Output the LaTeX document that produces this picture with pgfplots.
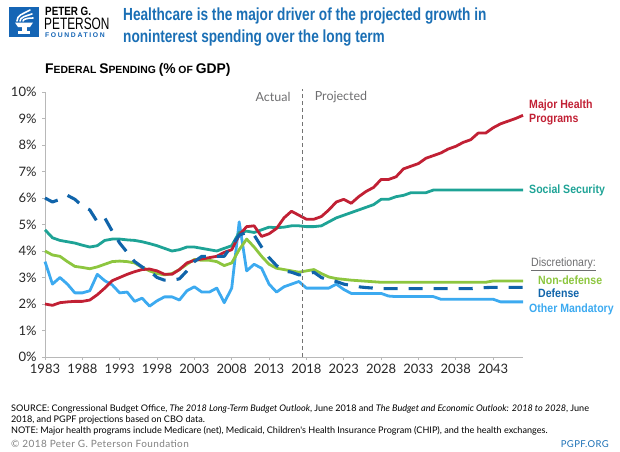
\documentclass[border=0pt]{standalone}
\usepackage{pgfplots}
\pgfplotsset{compat=1.18}
\usepackage{pgfplotstable}
\usepackage{fontspec}
\setmainfont{Lato}
\newfontfamily\lato{Lato}
\newfontfamily\titlefont[FakeStretch=0.78]{Liberation Sans}
\newfontfamily\labfont[FakeStretch=0.88]{Liberation Sans}
\newfontfamily\logofont[FakeStretch=0.72]{Liberation Sans}
\newfontfamily\logoB[FakeStretch=0.82]{Liberation Sans}
\newfontfamily\fedfont[FakeStretch=0.99]{Liberation Sans}
\newfontfamily\foundfont[LetterSpace=24]{Liberation Sans}
\newfontfamily\footfont[LetterSpace=4]{Lato}

\definecolor{cRed}{RGB}{193,32,52}
\definecolor{cTeal}{RGB}{30,163,150}
\definecolor{cGreen}{RGB}{141,198,63}
\definecolor{cDef}{RGB}{16,100,170}
\definecolor{cOther}{RGB}{60,170,240}
\definecolor{cTitle}{RGB}{26,111,181}
\definecolor{cLogo}{RGB}{21,101,181}
\definecolor{cGray}{RGB}{110,110,112}

\pgfplotstableread{
year val
1983 2.0
1984 1.95
1985 2.05
1986 2.08
1987 2.1
1988 2.1
1989 2.15
1990 2.35
1991 2.6
1992 2.88
1993 3.0
1994 3.12
1995 3.22
1996 3.3
1997 3.32
1998 3.25
1999 3.12
2000 3.12
2001 3.3
2002 3.55
2003 3.65
2004 3.7
2005 3.75
2006 3.8
2007 3.95
2008 4.05
2009 4.6
2010 4.92
2011 4.95
2012 4.55
2013 4.65
2014 4.85
2015 5.25
2016 5.5
2017 5.35
2018 5.2
2019 5.2
2020 5.3
2021 5.55
2022 5.85
2023 5.95
2024 5.8
2025 6.05
2026 6.25
2027 6.4
2028 6.7
2029 6.7
2030 6.8
2031 7.1
2032 7.2
2033 7.3
2034 7.5
2035 7.6
2036 7.7
2037 7.85
2038 7.95
2039 8.1
2040 8.2
2041 8.45
2042 8.45
2043 8.65
2044 8.8
2045 8.9
2046 9.0
2047 9.12
}\tabHealth

\pgfplotstableread{
year val
1983 4.8
1984 4.5
1985 4.4
1986 4.35
1987 4.3
1988 4.22
1989 4.15
1990 4.2
1991 4.4
1992 4.45
1993 4.45
1994 4.42
1995 4.4
1996 4.35
1997 4.28
1998 4.2
1999 4.1
2000 4.0
2001 4.05
2002 4.15
2003 4.15
2004 4.1
2005 4.05
2006 4.0
2007 4.1
2008 4.2
2009 4.7
2010 4.75
2011 4.7
2012 4.8
2013 4.9
2014 4.88
2015 4.9
2016 4.95
2017 4.95
2018 4.92
2019 4.92
2020 4.95
2021 5.1
2022 5.25
2023 5.35
2024 5.45
2025 5.55
2026 5.65
2027 5.75
2028 5.95
2029 5.95
2030 6.05
2031 6.1
2032 6.2
2033 6.2
2034 6.2
2035 6.3
2036 6.3
2037 6.3
2038 6.3
2039 6.3
2040 6.3
2041 6.3
2042 6.3
2043 6.3
2044 6.3
2045 6.3
2046 6.3
2047 6.3
}\tabSS

\pgfplotstableread{
year val
1983 6.0
1984 5.85
1985 5.95
1986 6.1
1987 5.95
1988 5.7
1989 5.55
1990 5.1
1991 5.25
1992 4.75
1993 4.3
1994 3.95
1995 3.6
1996 3.4
1997 3.25
1998 3.0
1999 2.9
2000 2.9
2001 2.95
2002 3.25
2003 3.6
2004 3.8
2005 3.8
2006 3.8
2007 3.8
2008 4.2
2009 4.6
2010 4.7
2011 4.6
2012 4.15
2013 3.75
2014 3.45
2015 3.25
2016 3.2
2017 3.1
2018 3.1
2019 3.2
2020 3.0
2021 2.9
2022 2.85
2023 2.75
2024 2.7
2025 2.65
2026 2.62
2027 2.6
2028 2.58
2029 2.58
2030 2.58
2031 2.58
2032 2.58
2033 2.58
2034 2.58
2035 2.58
2036 2.58
2037 2.58
2038 2.58
2039 2.58
2040 2.58
2041 2.6
2042 2.62
2043 2.63
2044 2.63
2045 2.63
2046 2.63
2047 2.63
}\tabDef

\pgfplotstableread{
year val
1983 4.0
1984 3.85
1985 3.8
1986 3.6
1987 3.42
1988 3.38
1989 3.33
1990 3.4
1991 3.5
1992 3.6
1993 3.62
1994 3.6
1995 3.55
1996 3.38
1997 3.25
1998 3.15
1999 3.1
2000 3.15
2001 3.3
2002 3.5
2003 3.68
2004 3.65
2005 3.65
2006 3.6
2007 3.45
2008 3.55
2009 4.05
2010 4.45
2011 4.15
2012 3.8
2013 3.5
2014 3.35
2015 3.3
2016 3.25
2017 3.2
2018 3.25
2019 3.3
2020 3.15
2021 3.02
2022 2.96
2023 2.93
2024 2.9
2025 2.88
2026 2.86
2027 2.84
2028 2.82
2029 2.82
2030 2.82
2031 2.82
2032 2.82
2033 2.82
2034 2.82
2035 2.82
2036 2.82
2037 2.82
2038 2.82
2039 2.82
2040 2.82
2041 2.82
2042 2.82
2043 2.87
2044 2.87
2045 2.87
2046 2.87
2047 2.87
}\tabNonDef

\pgfplotstableread{
year val
1983 3.6
1984 2.75
1985 3.0
1986 2.75
1987 2.42
1988 2.42
1989 2.5
1990 3.12
1991 2.88
1992 2.72
1993 2.42
1994 2.45
1995 2.1
1996 2.22
1997 1.92
1998 2.12
1999 2.27
2000 2.27
2001 2.15
2002 2.5
2003 2.65
2004 2.45
2005 2.45
2006 2.6
2007 2.05
2008 2.6
2009 5.1
2010 3.25
2011 3.5
2012 3.35
2013 2.75
2014 2.45
2015 2.65
2016 2.75
2017 2.85
2018 2.6
2019 2.6
2020 2.6
2021 2.6
2022 2.75
2023 2.55
2024 2.4
2025 2.4
2026 2.4
2027 2.4
2028 2.4
2029 2.3
2030 2.28
2031 2.28
2032 2.28
2033 2.28
2034 2.28
2035 2.28
2036 2.18
2037 2.18
2038 2.18
2039 2.18
2040 2.18
2041 2.18
2042 2.18
2043 2.18
2044 2.08
2045 2.08
2046 2.08
2047 2.08
}\tabOther

\begin{document}
\begin{tikzpicture}
\useasboundingbox (0pt,0pt) rectangle (620pt,-451pt);

% ---- logo ----
\fill[cLogo] (9pt,-7pt) rectangle (39pt,-37pt);
\begin{scope}[white, line width=1.6pt, line cap=round]
  \draw (17pt,-21pt) .. controls (17pt,-15pt) and (23pt,-14pt) .. (30pt,-10pt);
  \draw (20pt,-21pt) .. controls (20pt,-17pt) and (26pt,-16pt) .. (32pt,-14pt);
  \draw (23pt,-21pt) .. controls (23pt,-19pt) and (28pt,-18pt) .. (33pt,-18pt);
\end{scope}
\fill[white] (15pt,-22.5pt) -- (33pt,-22.5pt) -- (30pt,-27pt) -- (18pt,-27pt) -- cycle;
\fill[white] (21.5pt,-27pt) rectangle (26.5pt,-31pt);
\fill[white] (18pt,-31pt) rectangle (30pt,-33.5pt);
\node[anchor=base west, inner sep=0pt] at (45pt,-15pt) {\logoB\bfseries\fontsize{12}{12}\selectfont PETER G.};
\node[anchor=base west, inner sep=0pt] at (44pt,-29.5pt) {\logofont\fontsize{16.5}{16.5}\selectfont PETERSON};
\node[anchor=base west, inner sep=0pt, text=cLogo] at (45pt,-37.5pt) {\foundfont\bfseries\fontsize{6.8}{7}\selectfont FOUNDATION};

% ---- title ----
\node[anchor=base west, inner sep=0pt, text=cTitle] at (123pt,-20pt) {\titlefont\bfseries\fontsize{17.5}{18}\selectfont Healthcare is the major driver of the projected growth in};
\node[anchor=base west, inner sep=0pt, text=cTitle] at (123pt,-42pt) {\titlefont\bfseries\fontsize{17.5}{18}\selectfont noninterest spending over the long term};

% ---- subtitle ----
\node[anchor=base west, inner sep=0pt] at (45pt,-73pt) {\fedfont\bfseries{\fontsize{14}{14}\selectfont F}{\fontsize{10.5}{14}\selectfont EDERAL }{\fontsize{14}{14}\selectfont S}{\fontsize{10.5}{14}\selectfont PENDING }{\fontsize{14}{14}\selectfont (\%} {\fontsize{10.5}{14}\selectfont OF }{\fontsize{14}{14}\selectfont GDP)}};

\begin{axis}[
  at={(45pt,-357pt)}, anchor=south west,
  scale only axis, width=478pt, height=265pt,
  xmin=1983, xmax=2047, ymin=0, ymax=10,
  axis x line*=bottom, axis y line*=left,
  axis line style={draw=black!28, line width=1pt},
  xtick={1983,1988,...,2043},
  ytick={0,1,...,10},
  yticklabel={\pgfmathprintnumber{\tick}\%},
  /pgf/number format/assume math mode=true,
  /pgf/number format/1000 sep={},
  tick label style={font=\lato\fontsize{13}{14}\selectfont, text=black!85},
  yticklabel style={xshift=-2pt},
  xticklabel style={yshift=-1pt},
  tick style={draw=black!28, line width=0.8pt},
  tick align=outside, major tick length=3pt,
  clip=false,
  every axis plot/.append style={no markers, line join=round},
]
\addplot[color=cOther, line width=2.8pt] table[x=year,y=val] {\tabOther};
\addplot[color=cGreen, line width=2.8pt] table[x=year,y=val] {\tabNonDef};
\addplot[color=cTeal, line width=2.8pt] table[x=year,y=val] {\tabSS};
\addplot[color=cRed, line width=2.8pt] table[x=year,y=val] {\tabHealth};
\addplot[color=cDef, line width=3.1pt, dash pattern=on 14pt off 11pt] table[x=year,y=val] {\tabDef};

\draw[black!55, line width=0.9pt, dash pattern=on 4pt off 3pt] (axis cs:2017.5,0) -- (axis cs:2017.5,10.1);
\node[anchor=east, inner sep=0pt, text=cGray, font=\lato\fontsize{12.5}{13}\selectfont] at (axis cs:2015.9,9.8) {Actual};
\node[anchor=west, inner sep=0pt, text=cGray, font=\lato\fontsize{12.5}{13}\selectfont] at (axis cs:2019.1,9.8) {Projected};
\end{axis}

% ---- series labels ----
\node[anchor=west, inner sep=0pt, text=cRed] at (529pt,-105pt) {\labfont\bfseries\fontsize{12}{13}\selectfont Major Health};
\node[anchor=west, inner sep=0pt, text=cRed] at (529pt,-120pt) {\labfont\bfseries\fontsize{12}{13}\selectfont Programs};
\node[anchor=west, inner sep=0pt, text=cTeal] at (529pt,-190pt) {\labfont\bfseries\fontsize{12}{13}\selectfont Social Security};
\node[anchor=west, inner sep=0pt, text=cGray] at (531pt,-264pt) {\labfont\fontsize{12}{13}\selectfont\underline{Discretionary:}};
\node[anchor=west, inner sep=0pt, text=cGreen] at (538pt,-280pt) {\labfont\bfseries\fontsize{12}{13}\selectfont Non-defense};
\node[anchor=west, inner sep=0pt, text=cDef] at (538pt,-293pt) {\labfont\bfseries\fontsize{12}{13}\selectfont Defense};
\node[anchor=west, inner sep=0pt, text=cOther] at (529pt,-309pt) {\labfont\bfseries\fontsize{12}{13}\selectfont Other Mandatory};

% ---- source ----
\node[anchor=base west, inner sep=0pt, font=\lato\fontsize{9.1}{10}\selectfont] at (11pt,-411pt) {SOURCE: Congressional Budget Office, \textit{The 2018 Long-Term Budget Outlook}, June 2018 and \textit{The Budget and Economic Outlook: 2018 to 2028}, June};
\node[anchor=base west, inner sep=0pt, font=\lato\fontsize{9.1}{10}\selectfont] at (11pt,-422pt) {2018, and PGPF projections based on CBO data.};
\node[anchor=base west, inner sep=0pt, font=\lato\fontsize{9.1}{10}\selectfont] at (11pt,-433pt) {NOTE: Major health programs include Medicare (net), Medicaid, Children's Health Insurance Program (CHIP), and the health exchanges.};
\node[anchor=base west, inner sep=0pt, text=black!50, font=\footfont\fontsize{10}{11}\selectfont] at (11pt,-447.5pt) {\textcopyright{} 2018 Peter G. Peterson Foundation};
\node[anchor=base east, inner sep=0pt, text=cTitle, font=\footfont\fontsize{9.5}{10}\selectfont] at (609pt,-447.5pt) {PGPF.ORG};
\end{tikzpicture}
\end{document}
